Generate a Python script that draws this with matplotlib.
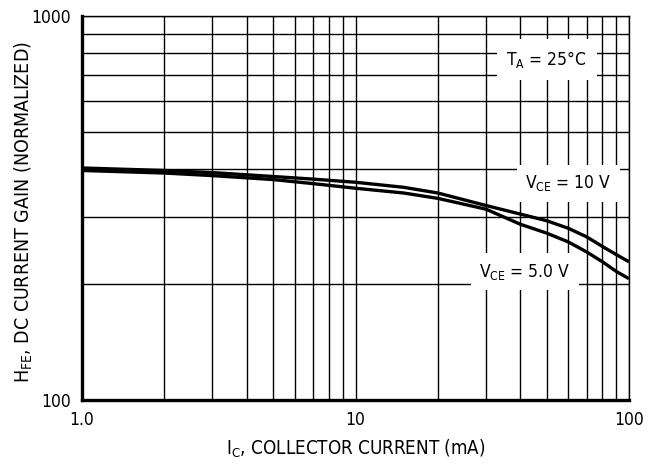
import matplotlib
matplotlib.use('Agg')
import matplotlib.pyplot as plt
from matplotlib.ticker import FixedLocator, NullFormatter, FixedFormatter

plt.rcParams['font.family'] = ['DejaVu Sans']
plt.rcParams['font.stretch'] = 'condensed'
plt.rcParams['mathtext.fontset'] = 'custom'
plt.rcParams['mathtext.rm'] = 'DejaVu Sans:stretch=condensed'

# collector current (mA) and normalized gain
ic = [1, 2, 3, 5, 7, 10, 15, 20, 30, 40, 50, 60, 70, 80, 90, 100]
hfe_vce10 = [402, 396, 391, 382, 376, 369, 358, 346, 321, 305, 293, 280, 266, 251, 239, 229]
hfe_vce5 = [396, 390, 384, 375, 366, 356, 346, 335, 314, 287, 272, 258, 243, 229, 216, 207]

x_ticks = [1, 10, 100]
x_tick_labels = ['1.0', '10', '100']
y_ticks = [100, 1000]
y_tick_labels = ['100', '1000']


def plot():
    fig = plt.figure(figsize=(6.6, 4.68), dpi=100)
    ax = fig.add_axes([82 / 660, 68 / 468, 547 / 660, 384 / 468])

    ax.set_xscale('log')
    ax.set_yscale('log')
    ax.set_xlim(1, 100)
    ax.set_ylim(100, 1000)

    ax.plot(ic, hfe_vce10, color='black', lw=2.4, solid_capstyle='butt', zorder=3)
    ax.plot(ic, hfe_vce5, color='black', lw=2.4, solid_capstyle='butt', zorder=3)

    ax.xaxis.set_major_locator(FixedLocator(x_ticks))
    ax.xaxis.set_major_formatter(FixedFormatter(x_tick_labels))
    ax.yaxis.set_major_locator(FixedLocator(y_ticks))
    ax.yaxis.set_major_formatter(FixedFormatter(y_tick_labels))
    ax.xaxis.set_minor_formatter(NullFormatter())
    ax.yaxis.set_minor_formatter(NullFormatter())
    ax.tick_params(which='both', length=0, labelsize=12.5)
    ax.tick_params(axis='x', pad=8)
    ax.tick_params(axis='y', pad=8)
    ax.grid(True, which='both', color='black', lw=1.0, zorder=1)

    for side in ['left', 'bottom']:
        ax.spines[side].set_linewidth(2.4)
    for side in ['top', 'right']:
        ax.spines[side].set_linewidth(1.0)

    ax.text(50, 770, r'$\mathregular{T_A}$ = 25°C', fontsize=12.5,
            ha='center', va='center', zorder=4,
            bbox=dict(facecolor='white', edgecolor='none', pad=7))
    ax.text(60, 367, r'$\mathregular{V_{CE}}$ = 10 V', fontsize=12.5,
            ha='center', va='center', zorder=4,
            bbox=dict(facecolor='white', edgecolor='none', pad=6))
    ax.text(41.5, 216, r'$\mathregular{V_{CE}}$ = 5.0 V', fontsize=12.5,
            ha='center', va='center', zorder=4,
            bbox=dict(facecolor='white', edgecolor='none', pad=6))

    ax.set_xlabel(r'$\mathregular{I_C}$, COLLECTOR CURRENT (mA)', fontsize=13.5)
    ax.set_ylabel(r'$\mathregular{H_{FE}}$, DC CURRENT GAIN (NORMALIZED)', fontsize=14)
    ax.xaxis.label.set_va('center')
    ax.yaxis.label.set_va('center')
    ax.xaxis.set_label_coords(0.5, -0.128)
    ax.yaxis.set_label_coords(-0.106, 0.49)

    fig.savefig('out.png', dpi=100, facecolor='white')


plot()
